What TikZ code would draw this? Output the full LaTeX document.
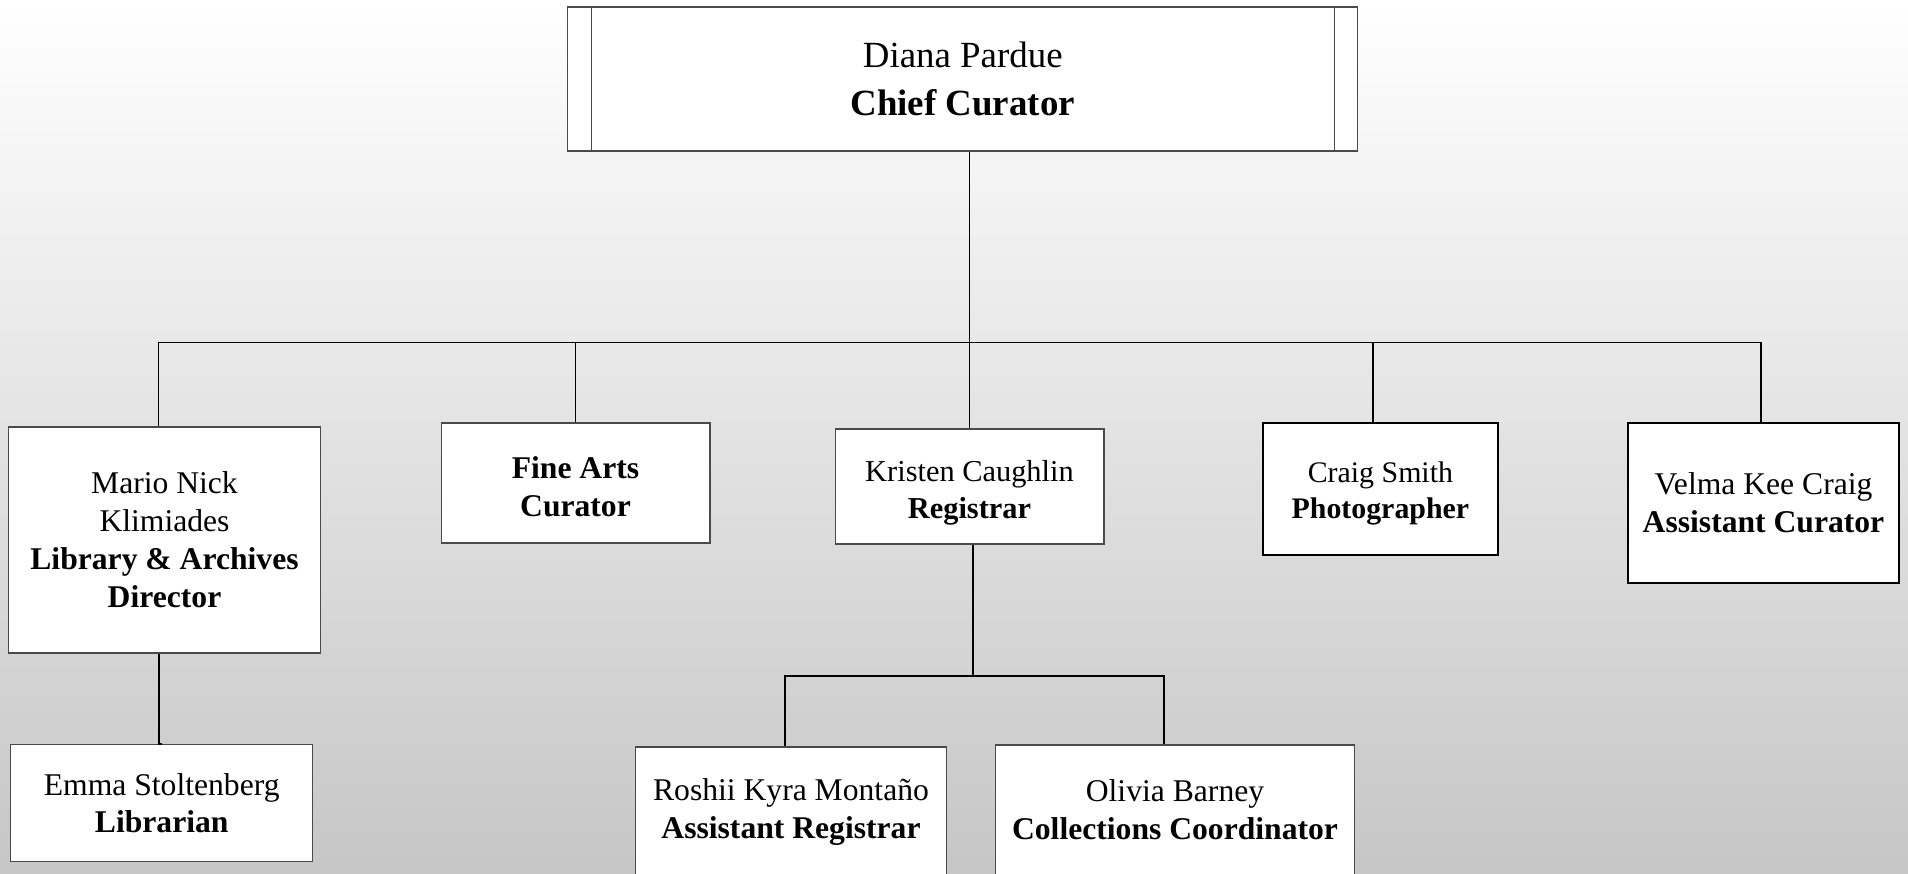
\documentclass[tikz,border=0pt]{standalone}
\usepackage{fontspec}
\setmainfont{Liberation Serif}
\definecolor{frame}{HTML}{4A4A4A}
\definecolor{paper}{HTML}{C6C6C6}

\begin{document}
\begin{tikzpicture}[x=0.02cm,y=-0.02cm,
    box/.style={draw=frame,line width=0.6pt,fill=white,align=center,
      inner sep=0pt,font=\fontsize{18}{21.6}\selectfont},
    strongbox/.style={box,draw=black,line width=1.1pt},
    link/.style={line width=0.8pt},
    sublink/.style={line width=1.1pt}]
  \useasboundingbox (0,0) rectangle (1908,874);
  \clip (0,0) rectangle (1908,874);
  \shade[top color=white,bottom color=paper] (0,0) rectangle (1908,874);

  % top
  \node[box,minimum width=15.81cm,minimum height=2.88cm,
        font=\fontsize{21}{27}\selectfont] (chief) at (962.75,79)
    {Diana Pardue\\\textbf{Chief Curator}};
  \draw[frame,line width=0.6pt] ([xshift=0.48cm]chief.north west)
    -- ([xshift=0.48cm]chief.south west);
  \draw[frame,line width=0.6pt] ([xshift=-0.47cm]chief.north east)
    -- ([xshift=-0.47cm]chief.south east);

  % second row
  \node[box,minimum width=6.25cm,minimum height=4.52cm] (mario)
    at (164.5,540)
    {Mario Nick\\Klimiades\\\textbf{Library \& Archives}\\\textbf{Director}};
  \node[box,minimum width=5.38cm,minimum height=2.4cm] (fine)
    at (575.5,483) {\rule{0pt}{16.5pt}\textbf{Fine Arts}\\\textbf{Curator}};
  \node[box,minimum width=5.38cm,minimum height=2.3cm,
        font=\fontsize{17.3}{21.4}\selectfont] (kristen) at (969.5,486.5)
    {\rule{0pt}{19pt}Kristen Caughlin\\\textbf{Registrar}};
  \node[strongbox,minimum width=4.71cm,minimum height=2.64cm,
        font=\fontsize{17}{20.5}\selectfont] (craig) at (1380.4,489)
    {\rule{0pt}{17pt}Craig Smith\\\textbf{Photographer}};
  \node[strongbox,minimum width=5.42cm,minimum height=3.2cm] (velma)
    at (1763.5,503) {Velma Kee Craig\\\textbf{Assistant Curator}};

  % third row
  \node[box,minimum width=6.04cm,minimum height=2.34cm] (emma)
    at (161.7,803.2) {Emma Stoltenberg\\\textbf{Librarian}};
  \node[box,minimum width=6.22cm,minimum height=2.6cm] (roshii)
    at (791,812) {Roshii Kyra Montaño\\\textbf{Assistant Registrar}};
  \node[box,minimum width=7.19cm,minimum height=2.6cm] (olivia)
    at (1175,810) {Olivia Barney\\\textbf{Collections Coordinator}};

  % connectors
  \coordinate (bus) at (969.3,342.7);
  \coordinate (subbus) at (972.7,675.7);
  \draw[link] (chief.south -| kristen.north) -- (kristen.north);
  \draw[link] ([xshift=-0.12cm]mario.north) |- (bus)
    -| ([xshift=-0.05cm]velma.north);
  \draw[link] (fine.north) |- (bus);
  \draw[link] ([xshift=-0.15cm]craig.north) |- (bus);
  \draw[link] ([xshift=-0.11cm]mario.south) |- (emma.north);
  \draw[sublink] (kristen.south -| subbus) -- (subbus);
  \draw[sublink] ([xshift=-0.12cm]roshii.north) |- (subbus)
    -| ([xshift=-0.22cm]olivia.north);
\end{tikzpicture}
\end{document}
